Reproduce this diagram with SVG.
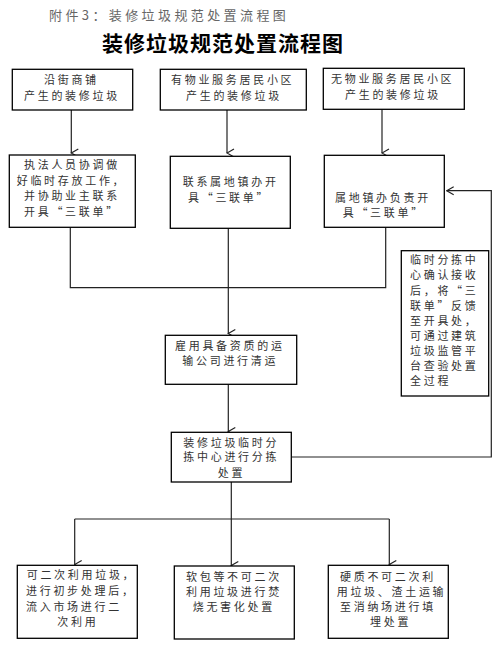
<svg xmlns="http://www.w3.org/2000/svg" width="504" height="648" viewBox="0 0 504 648">
<style>
.bx{fill:#fff;stroke:#000;stroke-width:1.3}
.t{font-family:"Noto Sans CJK SC","Liberation Serif",serif;font-size:11px;fill:#333;letter-spacing:2.7px}
.c{fill:none;stroke:#222;stroke-width:1.2}
</style>
<defs>
<marker id="ah" markerUnits="userSpaceOnUse" markerWidth="12" markerHeight="10" refX="5" refY="9" orient="auto-start-reverse" viewBox="0 0 10 10">
<path d="M1,2 L5,9 L9,2" fill="none" stroke="#222" stroke-width="1.2"/>
</marker>
<marker id="al" markerUnits="userSpaceOnUse" markerWidth="10" markerHeight="12" refX="1" refY="5" viewBox="0 0 10 10">
<path d="M8,1 L1,5 L8,9" fill="none" stroke="#222" stroke-width="1.2"/>
</marker>
</defs>
<text x="49" y="20" style="font-family:'Noto Sans CJK SC',sans-serif;font-size:13px;fill:#666;letter-spacing:3.4px">附件3：装修垃圾规范处置流程图</text>
<text x="102" y="51" style="font-family:'Noto Sans CJK SC',serif;font-size:21px;font-weight:bold;fill:#000;letter-spacing:1px">装修垃圾规范处置流程图</text>

<g id="connectors">
<path class="c" d="M71.3,110 V153" marker-end="url(#ah)"/>
<path class="c" d="M227,110 V153" marker-end="url(#ah)"/>
<path class="c" d="M382,109.3 V153" marker-end="url(#ah)"/>
<path class="c" d="M70.3,227.3 V287.7 H385.7 V227.3"/>
<path class="c" d="M228.3,228.3 V333.5" marker-end="url(#ah)"/>
<path class="c" d="M228.3,384.3 V431.5" marker-end="url(#ah)"/>
<path class="c" d="M291.3,457 H491.3 V190.7 H446.7" marker-end="url(#al)"/>
<path class="c" d="M231.3,482 V519"/>
<path class="c" d="M74.7,519 H389.3"/>
<path class="c" d="M74.7,519 V564.5" marker-end="url(#ah)"/>
<path class="c" d="M231.3,519 V565.5" marker-end="url(#ah)"/>
<path class="c" d="M389.3,519 V564.5" marker-end="url(#ah)"/>
</g>

<g id="n1"><rect class="bx" x="12.3" y="69.3" width="120.4" height="40.7"/>
<text class="t" x="44" y="84">沿街商铺</text><text class="t" x="24" y="100">产生的装修垃圾</text></g>
<g id="n2"><rect class="bx" x="160.3" y="69.3" width="146" height="40.7"/>
<text class="t" x="171" y="84">有物业服务居民小区</text><text class="t" x="186" y="100">产生的装修垃圾</text></g>
<g id="n3"><rect class="bx" x="323.3" y="68.3" width="141" height="41"/>
<text class="t" x="331" y="83">无物业服务居民小区</text><text class="t" x="345" y="99">产生的装修垃圾</text></g>

<g id="n4"><rect class="bx" x="9.3" y="155" width="126" height="72.3"/>
<text class="t" x="24" y="169">执法人员协调做</text><text class="t" x="16.7" y="184.5">好临时存放工作，</text><text class="t" x="24" y="200">并协助业主联系</text><text class="t" x="24" y="215.5">开具“三联单”</text></g>
<g id="n5"><rect class="bx" x="170.3" y="156.3" width="120" height="72"/>
<text class="t" x="182.7" y="186">联系属地镇办开</text><text class="t" x="188" y="202">具“三联单”</text></g>
<g id="n6"><rect class="bx" x="324.3" y="155.3" width="120" height="72"/>
<text class="t" x="335" y="201.5">属地镇办负责开</text><text class="t" x="342.7" y="216.5">具“三联单”</text></g>

<g id="n7"><rect class="bx" x="165.3" y="335.3" width="131.4" height="49"/>
<text class="t" x="175" y="350">雇用具备资质的运</text><text class="t" x="182.3" y="365">输公司进行清运</text></g>

<g id="n8"><rect class="bx" x="401.3" y="250.7" width="87.4" height="145.3"/>
<text class="t" x="410" y="264">临时分拣中</text><text class="t" x="410" y="279">心确认接收</text><text class="t" x="410" y="294.5">后，将“三</text><text class="t" x="410" y="309.5">联单”反馈</text><text class="t" x="410" y="324.5">至开具处，</text><text class="t" x="410" y="340">可通过建筑</text><text class="t" x="410" y="354.5">垃圾监管平</text><text class="t" x="410" y="370">台查验处置</text><text class="t" x="410" y="384.5">全过程</text></g>

<g id="n9"><rect class="bx" x="171.3" y="432.3" width="120" height="49.7"/>
<text class="t" x="183.3" y="446.5">装修垃圾临时分</text><text class="t" x="183.3" y="461">拣中心进行分拣</text><text class="t" x="217.7" y="476.5">处置</text></g>

<g id="n10"><rect class="bx" x="17.3" y="565.3" width="120" height="73"/>
<text class="t" x="26.7" y="579">可二次利用垃圾，</text><text class="t" x="26" y="594.5">进行初步处理后，</text><text class="t" x="26" y="610.5">流入市场进行二</text><text class="t" x="57.3" y="625.5">次利用</text></g>
<g id="n11"><rect class="bx" x="174.3" y="566" width="120" height="73"/>
<text class="t" x="186" y="581">软包等不可二次</text><text class="t" x="186" y="595.5">利用垃圾进行焚</text><text class="t" x="192.7" y="610.5">烧无害化处置</text></g>
<g id="n12"><rect class="bx" x="328.3" y="565.3" width="120" height="73"/>
<text class="t" x="340" y="581">硬质不可二次利</text><text class="t" x="336.7" y="595.5">用垃圾、渣土运输</text><text class="t" x="340" y="610.5">至消纳场进行填</text><text class="t" x="370" y="625.5">埋处置</text></g>
</svg>
